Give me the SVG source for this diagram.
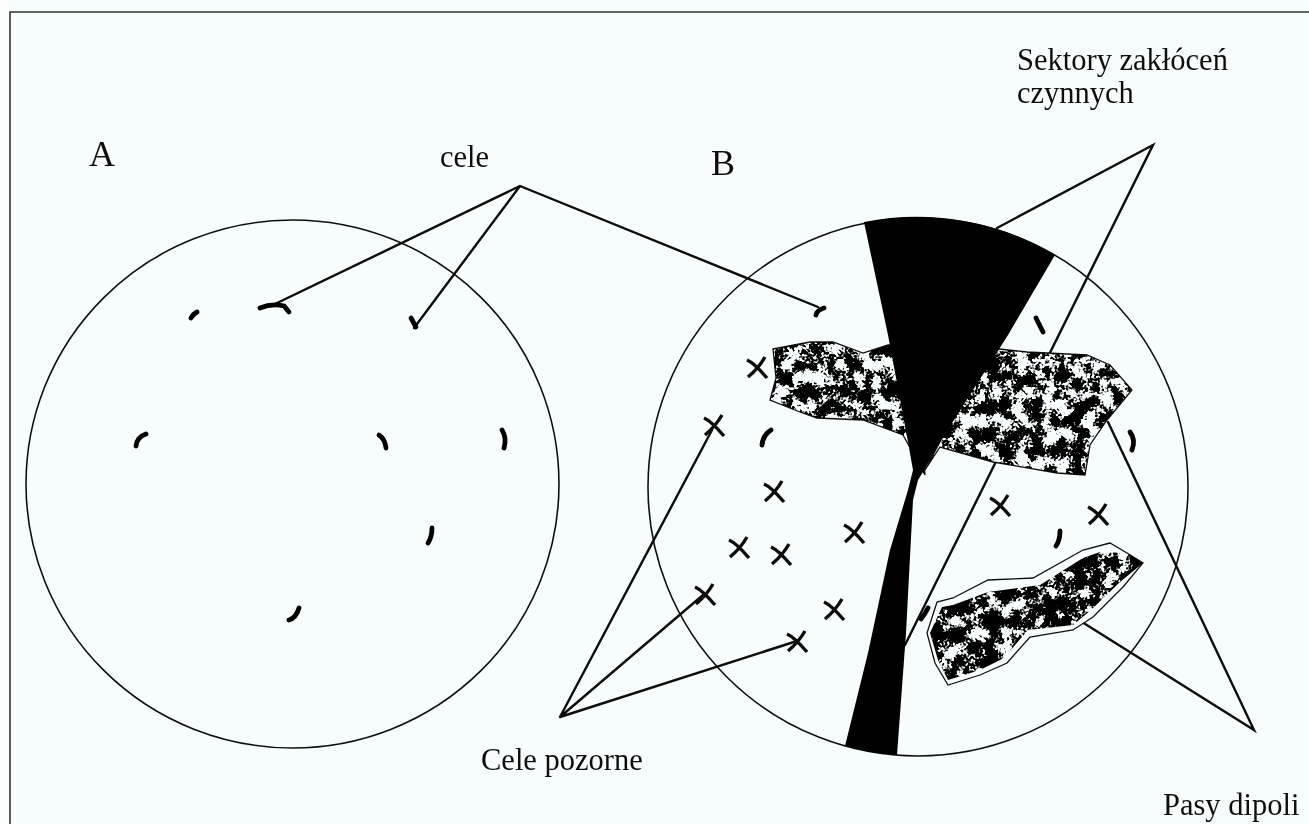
<svg xmlns="http://www.w3.org/2000/svg" xmlns:xlink="http://www.w3.org/1999/xlink" width="1309" height="824" viewBox="0 0 1309 824">
<style>
.ring{fill:none;stroke:#111;stroke-width:1.6}
.lead{fill:none;stroke:#0a0a0a;stroke-width:2.4;stroke-linecap:round}
.echo{fill:none;stroke:#000;stroke-width:4.8;stroke-linecap:round}
.x{fill:none;stroke:#0a0a0a;stroke-width:3.4}
.band{fill:#f7fdfd;stroke:#111;stroke-width:1.3}
.t{font-family:"Liberation Serif","Times New Roman",serif;fill:#111;font-size:30.500px}
.big{font-size:36px}
</style>
<defs>
<filter id="chaff" x="0" y="0" width="100%" height="100%" filterUnits="objectBoundingBox" color-interpolation-filters="sRGB">
<feTurbulence type="fractalNoise" baseFrequency="0.07" numOctaves="3" seed="23"/>
<feColorMatrix type="matrix" values="1 0 0 0 0 1 0 0 0 0 1 0 0 0 0 0 0 0 0 1" result="a"/>
<feTurbulence type="fractalNoise" baseFrequency="0.42" numOctaves="1" seed="5"/>
<feColorMatrix type="matrix" values="1 0 0 0 0 1 0 0 0 0 1 0 0 0 0 0 0 0 0 1" result="b"/>
<feComposite in="a" in2="b" operator="arithmetic" k1="0" k2="0.62" k3="0.38" k4="0"/>
<feColorMatrix type="matrix" values="0 0 0 0 0 0 0 0 0 0 0 0 0 0 0 14 0 0 0 -6.300"/>
</filter>
<filter id="chaffDense" x="0" y="0" width="100%" height="100%" filterUnits="objectBoundingBox" color-interpolation-filters="sRGB">
<feTurbulence type="fractalNoise" baseFrequency="0.07" numOctaves="3" seed="41"/>
<feColorMatrix type="matrix" values="1 0 0 0 0 1 0 0 0 0 1 0 0 0 0 0 0 0 0 1" result="a"/>
<feTurbulence type="fractalNoise" baseFrequency="0.42" numOctaves="1" seed="9"/>
<feColorMatrix type="matrix" values="1 0 0 0 0 1 0 0 0 0 1 0 0 0 0 0 0 0 0 1" result="b"/>
<feComposite in="a" in2="b" operator="arithmetic" k1="0" k2="0.62" k3="0.38" k4="0"/>
<feColorMatrix type="matrix" values="0 0 0 0 0 0 0 0 0 0 0 0 0 0 0 14 0 0 0 -5.900"/>
</filter>
<filter id="scan" x="0" y="0" width="100%" height="100%"><feGaussianBlur stdDeviation="0.4"/></filter>
<path id="mark" class="x" d="M-10-8C-3-5 4 3 10 10M8-11C4-4-3 4-9 9"/>
<clipPath id="upL"><path d="M773 349L810 342L833 342L863 353L888 345L915 345L925 475L903 435L863 420L817 418L800 412L770 400L776 378Z"/></clipPath>
<clipPath id="upR"><path d="M925 470L990 348L1027 352L1087 355L1110 365L1132 390L1107 420L1090 445L1085 475L1057 473L993 462L940 447Z"/></clipPath>
<clipPath id="low"><path d="M1127 553L1100 552L1083 558L1040 585L988 592L953 605L942 607L930 633L938 660L948 680L980 670L1004 658L1028 630L1073 625L1091 610L1120 582L1143 563Z"/></clipPath>
</defs>
<rect id="paper" width="1309" height="824" fill="#f7fdfd"/>
<g filter="url(#scan)">
<rect x="0" y="0" width="9" height="824" fill="#fcfefe"/>
<path d="M10 824V12H1309" fill="none" stroke="#333" stroke-width="1.6"/>

<g id="radar-A"><ellipse class="ring" cx="292.500" cy="484" rx="266.500" ry="264"/></g>
<g id="radar-B"><ellipse class="ring" cx="918" cy="487" rx="270" ry="269"/></g>

<g id="connectors">
<path class="lead" d="M275 304L520 186L414 328M520 186L818 307"/>
<path class="lead" d="M997 228L1153 145L905 645"/>
<path class="lead" d="M1108 422L1254 730L1082 622"/>
<path class="lead" d="M712 430L560 717L703 595M560 717L797 641"/>
</g>

<g id="chaff-upper">
<path class="band" d="M773 349L810 342L833 342L863 353L888 345L915 345L925 475L903 435L863 420L817 418L800 412L770 400L776 378Z"/>
<path class="band" d="M925 470L990 348L1027 352L1087 355L1110 365L1132 390L1107 420L1090 445L1085 475L1057 473L993 462L940 447Z"/>
<g clip-path="url(#upL)"><rect x="765" y="340" width="170" height="140" filter="url(#chaff)"/></g>
<g clip-path="url(#upR)"><rect x="920" y="345" width="220" height="135" filter="url(#chaff)"/></g>
</g>
<g id="chaff-lower">
<path class="band" d="M1110 543L1083 550L1033 578L988 580L953 598L937 602L927 633L935 663L948 685L980 675L1007 663L1030 637L1073 630L1093 617L1123 587L1143 563L1127 553Z"/>
<g clip-path="url(#low)"><rect x="925" y="540" width="225" height="150" filter="url(#chaffDense)"/></g>
</g>

<g id="jam-sectors" fill="#000">
<path d="M864 222A270 269 0 0 1 1055 255L1008 335L940 442L923 472L918 480L913 500L906 633L897 755Q868 753 845 746L868 653L890 550L908 490L913 470L908 442L888 335Z"/>
</g>

<g id="targets-A">
<path class="echo" d="M191 318Q193 314 197 312"/>
<path class="echo" d="M260 308Q272 303 284 306L289 312" stroke-width="3.8"/>
<path class="echo" d="M411 318L416 327"/>
<path class="echo" d="M136 446Q137 437 146 434"/>
<path class="echo" d="M379 435Q385 439 386 448"/>
<path class="echo" d="M502 430Q507 438 504 448"/>
<path class="echo" d="M432 528Q432 537 428 543"/>
<path class="echo" d="M289 620Q296 618 299 608"/>
</g>
<g id="targets-B">
<path class="echo" d="M816 315Q817 310 824 308"/>
<path class="echo" d="M1036 318L1043 332"/>
<path class="echo" d="M762 445Q763 435 771 430"/>
<path class="echo" d="M1130 432Q1136 440 1132 450"/>
<path class="echo" d="M1060 531Q1060 540 1056 546"/>
<path class="echo" d="M921 619Q925 614 928 608"/>
</g>
<g id="decoys">
<use xlink:href="#mark" href="#mark" x="757" y="368"/>
<use xlink:href="#mark" href="#mark" x="714" y="426"/>
<use xlink:href="#mark" href="#mark" x="774" y="492"/>
<use xlink:href="#mark" href="#mark" x="854" y="533"/>
<use xlink:href="#mark" href="#mark" x="739" y="548"/>
<use xlink:href="#mark" href="#mark" x="781" y="555"/>
<use xlink:href="#mark" href="#mark" x="705" y="595"/>
<use xlink:href="#mark" href="#mark" x="834" y="610"/>
<use xlink:href="#mark" href="#mark" x="797" y="642"/>
<use xlink:href="#mark" href="#mark" x="1000" y="506"/>
<use xlink:href="#mark" href="#mark" x="1098" y="515"/>
</g>

<g id="labels">
<text class="t big" x="89" y="166">A</text>
<text class="t" x="440" y="167">cele</text>
<text class="t big" x="711" y="175">B</text>
<text class="t" x="1017" y="70">Sektory zakłóceń</text>
<text class="t" x="1017" y="103">czynnych</text>
<text class="t" x="481" y="770">Cele pozorne</text>
<text class="t" x="1163" y="815">Pasy dipoli</text>
</g>
</g>
</svg>
